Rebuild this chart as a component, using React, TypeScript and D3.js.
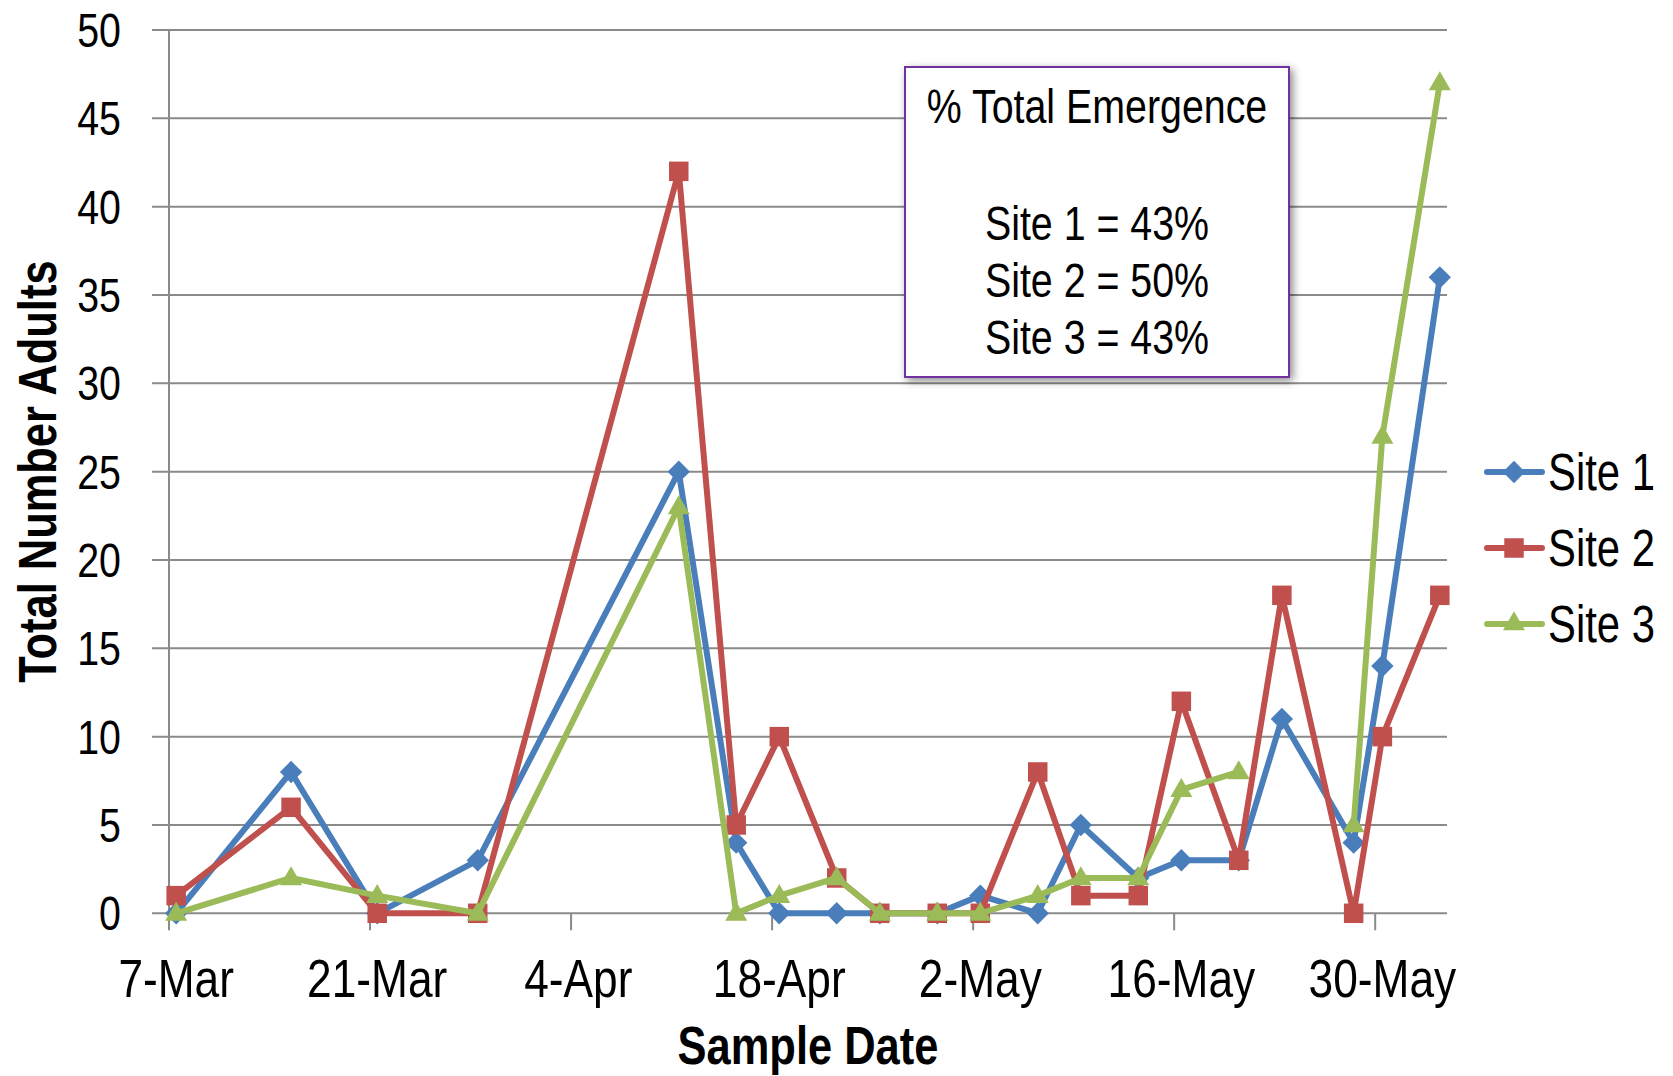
import React from "react";
import * as d3 from "d3";

const sampleDates = [
  "2011-03-07", "2011-03-15", "2011-03-21", "2011-03-28", "2011-04-11",
  "2011-04-15", "2011-04-18", "2011-04-22", "2011-04-25", "2011-04-29",
  "2011-05-02", "2011-05-06", "2011-05-09", "2011-05-13", "2011-05-16",
  "2011-05-20", "2011-05-23", "2011-05-28", "2011-05-30", "2011-06-03",
];
const site1 = [0, 8, 0, 3, 25, 4, 0, 0, 0, 0, 1, 0, 5, 2, 3, 3, 11, 4, 14, 36];
const site2 = [1, 6, 0, 0, 42, 5, 10, 2, 0, 0, 0, 8, 1, 1, 12, 3, 18, 0, 10, 18];
const site3: (number | null)[] = [0, 2, 1, 0, 23, 0, 1, 2, 0, 0, 0, 1, 2, 2, 7, 8, null, 5, 27, 47];

const seriesNames = ["Site 1", "Site 2", "Site 3"];
const seriesColors = ["#4A7EBB", "#C0504D", "#9BBB59"];
const seriesShapes = ["diamond", "square", "triangle"];

const xTickDates = ["2011-03-07", "2011-03-21", "2011-04-04", "2011-04-18", "2011-05-02", "2011-05-16", "2011-05-30"];
const yTicks = [0, 5, 10, 15, 20, 25, 30, 35, 40, 45, 50];

const boxTitle = "% Total Emergence";
const boxLines = ["Site 1 = 43%", "Site 2 = 50%", "Site 3 = 43%"];

const FONT = "'Liberation Sans', Arial, sans-serif";
const NARROW = 0.82;
const W = 1673;
const H = 1076;
const HALF_DAY = 12 * 3600 * 1000;

function markerPath(shape: string): string {
  if (shape === "diamond") return d3.symbol(d3.symbolSquare, 250)()!;
  if (shape === "square") return d3.symbol(d3.symbolSquare, 380)()!;
  return d3.symbol(d3.symbolTriangle, 210)()!;
}

function NText(props: {
  x: number;
  y: number;
  size: number;
  anchor?: "start" | "middle" | "end";
  bold?: boolean;
  rotate?: number;
  children: React.ReactNode;
}) {
  const { x, y, size, anchor = "start", bold = false, rotate = 0, children } = props;
  return (
    <text
      transform={`translate(${x},${y})${rotate ? ` rotate(${rotate})` : ""} scale(${NARROW},1)`}
      textAnchor={anchor}
      fontFamily={FONT}
      fontSize={size}
      fontWeight={bold ? "bold" : "normal"}
      fill="#000"
    >
      {children}
    </text>
  );
}

export default function App() {
  const parse = (s: string) => new Date(s + "T00:00:00Z");
  const x = d3
    .scaleUtc()
    .domain([parse("2011-03-07"), parse("2011-06-04")])
    .range([169, 1447]);
  const y = d3.scaleLinear().domain([0, 50]).range([913.3, 30]);

  const allSeries = [site1, site2, site3];
  const pts = sampleDates.map((d) => new Date(parse(d).getTime() + HALF_DAY));

  const line = d3
    .line<number | null>()
    .defined((v) => v != null)
    .x((_, i) => x(pts[i]))
    .y((v) => y(v as number));

  const [x0, x1] = x.range();
  const fmt = d3.utcFormat("%-d-%b");

  return (
    <svg width={W} height={H} style={{ display: "block", position: "absolute", left: 0, top: 0, background: "#fff" }}>
      <defs>
        <filter id="shadow" x="-10%" y="-10%" width="130%" height="130%">
          <feDropShadow dx="3" dy="3" stdDeviation="4" floodColor="#000" floodOpacity="0.45" />
        </filter>
      </defs>
      <rect x={0} y={0} width={W} height={H} fill="#fff" />
      {yTicks.map((t) => (
        <line key={"g" + t} x1={152} x2={x1} y1={y(t)} y2={y(t)} stroke="#8a8a8a" strokeWidth={2} />
      ))}
      <line x1={x0} x2={x0} y1={y(50)} y2={y(0)} stroke="#8a8a8a" strokeWidth={2} />
      {xTickDates.map((d) => (
        <line key={"xt" + d} x1={x(parse(d))} x2={x(parse(d))} y1={y(0)} y2={y(0) + 17} stroke="#8a8a8a" strokeWidth={2} />
      ))}
      {yTicks.map((t) => (
        <NText key={"yl" + t} x={121} y={y(t) + 17} size={48} anchor="end">
          {t}
        </NText>
      ))}
      {xTickDates.map((d) => (
        <NText key={"xl" + d} x={x(new Date(parse(d).getTime() + HALF_DAY))} y={997} size={54} anchor="middle">
          {fmt(parse(d))}
        </NText>
      ))}
      <NText x={(x0 + x1) / 2} y={1064} size={53} anchor="middle" bold>
        Sample Date
      </NText>
      <NText x={56} y={(y(0) + y(50)) / 2} size={53} anchor="middle" bold rotate={-90}>
        Total Number Adults
      </NText>
      <rect x={905} y={67} width={384} height={310} fill="#fff" stroke="#7030A0" strokeWidth={2} filter="url(#shadow)" />
      <NText x={1097} y={123} size={48} anchor="middle">
        {boxTitle}
      </NText>
      {boxLines.map((l, i) => (
        <NText key={"bl" + i} x={1097} y={240 + i * 57} size={48} anchor="middle">
          {l}
        </NText>
      ))}
      {allSeries.map((vals, si) => (
        <g key={"s" + si}>
          <path d={line(vals as (number | null)[]) || ""} fill="none" stroke={seriesColors[si]} strokeWidth={6} strokeLinejoin="round" />
          {vals.map((v, i) =>
            v == null ? null : (
              <path
                key={i}
                d={markerPath(seriesShapes[si])}
                transform={`translate(${x(pts[i])},${y(v)})${seriesShapes[si] === "diamond" ? " rotate(45)" : ""}${seriesShapes[si] === "triangle" ? " translate(0,1)" : ""}`}
                fill={seriesColors[si]}
              />
            )
          )}
        </g>
      ))}
      {seriesNames.map((n, i) => {
        const ly = 472 + i * 76;
        return (
          <g key={"lg" + i}>
            <line x1={1487} x2={1542} y1={ly} y2={ly} stroke={seriesColors[i]} strokeWidth={6} strokeLinecap="round" />
            <path
              d={markerPath(seriesShapes[i])}
              transform={`translate(1514,${ly})${seriesShapes[i] === "diamond" ? " rotate(45)" : ""}`}
              fill={seriesColors[i]}
            />
            <NText x={1548} y={ly + 18} size={51}>
              {n}
            </NText>
          </g>
        );
      })}
    </svg>
  );
}
